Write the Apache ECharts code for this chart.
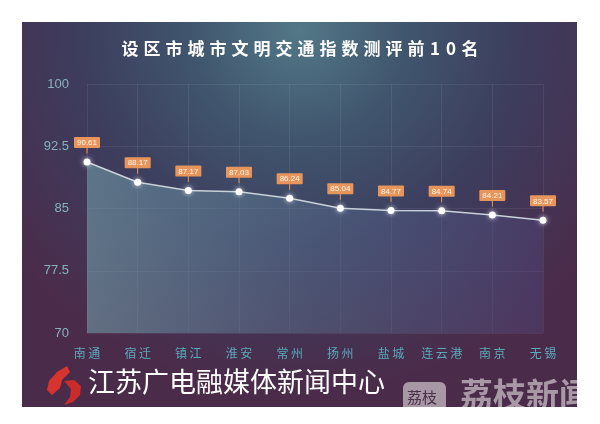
<!DOCTYPE html>
<html>
<head>
<meta charset="utf-8">
<script src="https://cdn.jsdelivr.net/npm/echarts@6/dist/echarts.min.js"></script>
<style>
html,body{margin:0;padding:0;background:#fff;}
#chart{width:600px;height:424px;}
</style>
</head>
<body>
<div id="chart"></div>
<script>
var titleText = '设区市城市文明交通指数测评前10名';
var categories = ['南通','宿迁','镇江','淮安','常州','扬州','盐城','连云港','南京','无锡'];
var values = [90.61, 88.17, 87.17, 87.03, 86.24, 85.04, 84.77, 84.74, 84.21, 83.57];
var yMin = 70, yMax = 100, yStep = 7.5;
var footerText = '江苏广电融媒体新闻中心';
var brandText = '荔枝新闻';
var brandBadge = '荔枝';

function spaced(str, key, digitKey){
  return str.split('').map(function(c){
    var k = (digitKey && /[0-9]/.test(c)) ? digitKey : key;
    return '{' + k + '|' + c + '}';
  }).join('');
}

var chart = echarts.init(document.getElementById('chart'), null, {renderer:'canvas'});
var font = '"Noto Sans CJK SC", "Noto Sans", sans-serif';
var option = {
  backgroundColor: '#ffffff',
  animation: false,
  title: {
    text: spaced(titleText, 't', 'd'), left: 'center', top: 35,
    textStyle: {
      color:'#ffffff', fontSize:17, fontWeight:'bold', fontFamily: font,
      rich: {
        t: {color:'#ffffff', fontSize:17, fontWeight:'bold', fontFamily: font, width:22, align:'center'},
        d: {color:'#ffffff', fontSize:17, fontWeight:'bold', fontFamily: font, width:16, align:'center'}
      }
    }
  },
  grid: {left: 87, right: 57, top: 84, bottom: 91},
  xAxis: {
    type: 'category', data: categories, boundaryGap: false,
    axisLine: {show:false}, axisTick: {show:false},
    axisLabel: {
      interval: 0,
      color:'#5aabbb', fontSize:12, margin:14, fontFamily: font,
      formatter: function(v){ return spaced(v, 'c'); },
      rich: {c: {color:'#5aabbb', fontSize:12, fontFamily: font, width:14.5, align:'center'}}
    },
    splitLine: {show:true, interval: 0, lineStyle:{color:'rgba(255,255,255,0.07)', width:1}}
  },
  yAxis: {
    type: 'value', min: yMin, max: yMax, interval: yStep,
    axisLine: {show:false}, axisTick: {show:false},
    axisLabel: {color:'#86b2bd', fontSize:13, margin:18, fontFamily:'"Liberation Sans", Arial, sans-serif'},
    splitLine: {lineStyle:{color:'rgba(255,255,255,0.07)', width:1}}
  },
  series: [{
    type: 'line', data: values, z: 5,
    symbol: 'circle', symbolSize: 7,
    itemStyle: {color:'#ffffff', shadowColor:'rgba(255,255,255,0.8)', shadowBlur:5},
    lineStyle: {color:'#c9d2da', width:1.5},
    areaStyle: {
      color: new echarts.graphic.LinearGradient(0,0,1,0,[
        {offset:0, color:'rgba(115,162,172,0.82)'},
        {offset:0.5, color:'rgba(90,115,145,0.62)'},
        {offset:1, color:'rgba(78,75,132,0.52)'}
      ])
    },
    label: {
      show: true, position: 'top', distance: 5,
      formatter: function(p){ return '{box|' + p.value.toFixed(2) + '}\n{stem|}'; },
      rich: {
        box: {backgroundColor:'#e8955c', color:'#fff5ea', fontSize:8, padding:[2,3,1,3], borderRadius:1, fontFamily:'"Liberation Sans", Arial, sans-serif', lineHeight:10},
        stem: {width:1, height:6, backgroundColor:'#e8955c', lineHeight:6}
      }
    }
  }],
  graphic: [
    {
      type:'rect', z:-10, silent:true,
      shape:{x:22, y:22, width:555, height:385},
      style:{fill: new echarts.graphic.RadialGradient(0.5, 0.02, 0.95, [
        {offset:0, color:'#537888'},
        {offset:0.3, color:'#40556d'},
        {offset:0.6, color:'#3d3d5e'},
        {offset:1, color:'#4b2b4a'}
      ])}
    },
    {
      type:'polygon', z:50, silent:true,
      shape:{points:[[67,366],[57,372],[49,381],[47,390],[52,395],[60,388],[62,380],[70,372]]},
      style:{fill:'#d8342f'}
    },
    {
      type:'polygon', z:50, silent:true,
      shape:{points:[[64,381],[74,380],[81,386],[80,395],[73,402],[64,405],[70,397],[71,389]]},
      style:{fill:'#c92c2a'}
    },
    {
      type:'text', z:50, silent:true, left: 88, top: 368,
      style:{text: footerText, fill:'#ffffff', fontSize:27, fontFamily: font}
    },
    {
      type:'rect', z:50, silent:true,
      shape:{x:403, y:382, width:43, height:34, r:6},
      style:{fill:'#a898a6'}
    },
    {
      type:'text', z:51, silent:true, left: 407, top: 390,
      style:{text: brandBadge, fill:'#4a3048', fontSize:15, fontFamily: font}
    },
    {
      type:'text', z:50, silent:true, left: 460, top: 378,
      style:{text: brandText, fill:'#a898a6', fontSize:33, fontWeight:'bold', fontFamily: font}
    },
    {type:'rect', z:60, silent:true, shape:{x:577, y:0, width:23, height:424}, style:{fill:'#ffffff'}},
    {type:'rect', z:60, silent:true, shape:{x:0, y:407, width:600, height:17}, style:{fill:'#ffffff'}}
  ]
};
chart.setOption(option);
</script>
</body>
</html>
